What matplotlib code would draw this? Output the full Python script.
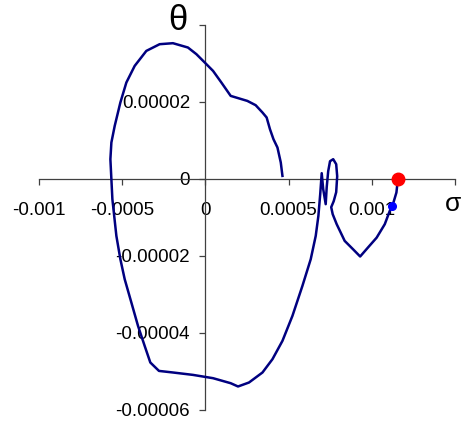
import numpy as np
import matplotlib
matplotlib.use("Agg")
import matplotlib.pyplot as plt

# -----------------------------
# DATA
# -----------------------------
sigma = [4.63e-4, 4.53e-4, 4.33e-4, 4.09e-4, 3.88e-4, 3.68e-4, 3.43e-4, 3.02e-4,
         2.52e-4, 1.52e-4, 9.6e-5, 4.6e-5, -4e-6, -5.4e-5, -1.05e-4, -1.95e-4,
         -2.75e-4, -3.55e-4, -4.25e-4, -4.75e-4, -5.11e-4, -5.45e-4, -5.65e-4,
         -5.71e-4, -5.65e-4, -5.59e-4, -5.35e-4, -5.11e-4, -4.85e-4, -4.45e-4,
         -4.05e-4, -3.65e-4, -3.31e-4, -2.79e-4, -1.95e-4, -7.5e-5, 4.6e-5,
         1.52e-4, 1.96e-4, 2.62e-4, 3.43e-4, 4.03e-4, 4.63e-4, 5.23e-4, 5.83e-4,
         6.33e-4, 6.63e-4, 6.79e-4, 6.90e-4, 6.99e-4, 7.08e-4, 7.23e-4, 7.29e-4,
         7.38e-4, 7.49e-4, 7.68e-4, 7.86e-4, 7.92e-4, 7.86e-4, 7.71e-4, 7.56e-4,
         7.65e-4, 7.89e-4, 8.37e-4, 8.87e-4, 9.30e-4, 9.77e-4, 1.029e-3,
         1.078e-3, 1.108e-3, 1.124e-3, 1.148e-3, 1.157e-3]
theta = [7.3e-7, 4.2e-6, 8.09e-6, 1.025e-5, 1.284e-5, 1.588e-5, 1.717e-5, 1.907e-5,
         2.018e-5, 2.148e-5, 2.495e-5, 2.796e-5, 3.014e-5, 3.23e-5, 3.403e-5,
         3.515e-5, 3.489e-5, 3.315e-5, 2.926e-5, 2.495e-5, 1.977e-5, 1.37e-5,
         9.39e-6, 5.06e-6, -1.3e-7, -5.32e-6, -1.484e-5, -2.088e-5, -2.607e-5,
         -3.211e-5, -3.818e-5, -4.337e-5, -4.768e-5, -4.986e-5, -5.027e-5,
         -5.089e-5, -5.175e-5, -5.305e-5, -5.39e-5, -5.287e-5, -5.027e-5,
         -4.682e-5, -4.207e-5, -3.559e-5, -2.781e-5, -2.088e-5, -1.484e-5,
         -9.65e-6, -4.02e-6, 1.43e-6, -2.72e-6, -6.61e-6, -2.2e-6, 1.95e-6,
         4.54e-6, 5.06e-6, 3.76e-6, 6.5e-7, -3.5e-6, -5.84e-6, -7.39e-6,
         -9.21e-6, -1.18e-5, -1.613e-5, -1.829e-5, -2.018e-5, -1.785e-5,
         -1.53e-5, -1.18e-5, -8.35e-6, -7.06e-6, -3.58e-6, 0.0]

red_point = (1.157e-3, 0.0)
blue_point = (1.124e-3, -7.06e-6)

x_ticks = [-0.001, -0.0005, 0, 0.0005, 0.001, 0.0015]
x_labels = ["-0.001", "-0.0005", "0", "0.0005", "0.001", ""]
y_ticks = [-0.00006, -0.00004, -0.00002, 0, 0.00002, 0.00004]
y_labels = ["-0.00006", "-0.00004", "-0.00002", "0", "0.00002", ""]

# -----------------------------
# PLOT
# -----------------------------
plt.rcParams['font.family'] = ['Liberation Sans', 'DejaVu Sans']

W, H = 462, 421
fig = plt.figure(figsize=(W / 100, H / 100), dpi=100)
ax = fig.add_axes([39 / W, (H - 410) / H, 416 / W, 385.5 / H])

ax.plot(sigma, theta, color='#000080', linewidth=1.8, zorder=3)
ax.plot(*red_point, 'o', color='#ff0000', markersize=9, zorder=4)
ax.plot(*blue_point, 'o', color='#0000ff', markersize=5.5, zorder=4)

ax.set_xlim(-0.001, 0.0015)
ax.set_ylim(-0.00006, 0.00004)

for side in ['top', 'right']:
    ax.spines[side].set_visible(False)
ax.spines['left'].set_position(('data', 0))
ax.spines['bottom'].set_position(('data', 0))
for side in ['left', 'bottom']:
    ax.spines[side].set_color('#404040')
    ax.spines[side].set_linewidth(0.9)

ax.set_xticks(x_ticks)
ax.set_xticklabels(x_labels)
ax.set_yticks(y_ticks)
ax.set_yticklabels(y_labels)
ax.tick_params(axis='x', direction='out', length=4.5, width=0.9, color='#404040',
               labelsize=13.5, pad=12)
ax.tick_params(axis='y', direction='out', length=4.5, width=0.9, color='#404040',
               labelsize=13.5, pad=6.5)

fig.text(178 / W, 1 - 21 / H, 'θ', fontsize=25, ha='center', va='center')
fig.text(453 / W, 1 - 204 / H, 'σ', fontsize=19, ha='center', va='center')

fig.savefig('out.png', dpi=100)
